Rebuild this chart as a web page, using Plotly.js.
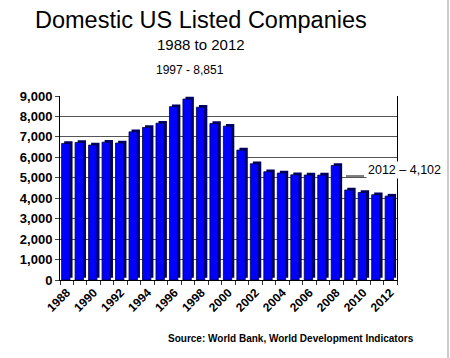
<!DOCTYPE html>
<html><head><meta charset="utf-8">
<script src="https://cdn.plot.ly/plotly-3.0.1.min.js"></script>
<style>html,body{margin:0;padding:0;background:#fff;}#chart{width:450px;height:358px;}</style>
</head><body><div id="chart"></div>
<script>
const years = [1988,1989,1990,1991,1992,1993,1994,1995,1996,1997,1998,1999,2000,2001,2002,2003,2004,2005,2006,2007,2008,2009,2010,2011,2012];
const companies = [6680,6727,6599,6742,6699,7246,7460,7670,8479,8851,8450,7651,7524,6355,5685,5295,5231,5143,5133,5130,5603,4401,4279,4171,4102];
const yearTicks = [1988,1990,1992,1994,1996,1998,2000,2002,2004,2006,2008,2010,2012];
const yTicks = [0,1000,2000,3000,4000,5000,6000,7000,8000,9000];

const L=60, R=397, T=96, B=280;
const px = x => (x-L)/(R-L);
const py = y => (B-y)/(B-T);

const traces = [
  {type:'bar', x:years, y:companies, base:110, width:0.62, offset:-0.19,
   marker:{color:'#000060', line:{width:0}}, hoverinfo:'skip', showlegend:false},
  {type:'bar', x:years, y:companies, width:0.62, offset:-0.38,
   marker:{color:'#0000ff', line:{color:'#000040', width:0.8}}, showlegend:false}
];

const layout = {
  width:450, height:358,
  margin:{l:L, r:450-R, t:T, b:358-B},
  paper_bgcolor:'#fff', plot_bgcolor:'#fff',
  barmode:'overlay',
  font:{family:'Arial, Liberation Sans, sans-serif', color:'#000'},
  xaxis:{range:[1987.5,2012.5], tickvals:yearTicks, ticktext:yearTicks.map(String),
    tickangle:-45, ticks:'', showgrid:false, zeroline:false,
    showline:true, linecolor:'#000', linewidth:1,
    tickfont:{size:12, family:'Arial, Liberation Sans', weight:'bold'},
    minor:{ticks:'outside', tick0:1987.5, dtick:1, ticklen:4, tickcolor:'#333', showgrid:false}},
  yaxis:{range:[0,9000], tickvals:yTicks, tickformat:',d', ticks:'outside', ticklen:4,
    showgrid:true, gridcolor:'#555', gridwidth:1, zeroline:false,
    showline:true, linecolor:'#000', linewidth:1, mirror:true,
    tickfont:{size:13, family:'Arial, Liberation Sans', weight:'bold'}},
  shapes:[
    {type:'line', xref:'paper', yref:'paper', x0:px(346), x1:px(364), y0:py(176), y1:py(176), line:{color:'#000', width:1}},
    {type:'line', xref:'paper', yref:'paper', x0:px(448), x1:px(448), y0:py(0), y1:py(358), line:{color:'#999', width:1}}
  ],
  annotations:[
    {text:'Domestic US Listed Companies', xref:'paper', yref:'paper', x:px(201), y:py(20), showarrow:false, font:{size:23.5}, xanchor:'center', yanchor:'middle'},
    {text:'1988 to 2012', xref:'paper', yref:'paper', x:px(200.5), y:py(44), showarrow:false, font:{size:15}, xanchor:'center', yanchor:'middle'},
    {text:'1997 - 8,851', xref:'paper', yref:'paper', x:px(190.3), y:py(70), showarrow:false, font:{size:12}, xanchor:'center', yanchor:'middle'},
    {text:'2012 \u2013 4,102', xref:'paper', yref:'paper', x:px(366), y:py(170), showarrow:false, font:{size:12.5}, xanchor:'left', yanchor:'middle', bgcolor:'#fff'},
    {text:'<b>Source: World Bank, World Development Indicators</b>', xref:'paper', yref:'paper', x:px(290.5), y:py(338), showarrow:false, font:{size:10}, xanchor:'center', yanchor:'middle'}
  ]
};
Plotly.newPlot('chart', traces, layout, {staticPlot:true});
</script></body></html>
